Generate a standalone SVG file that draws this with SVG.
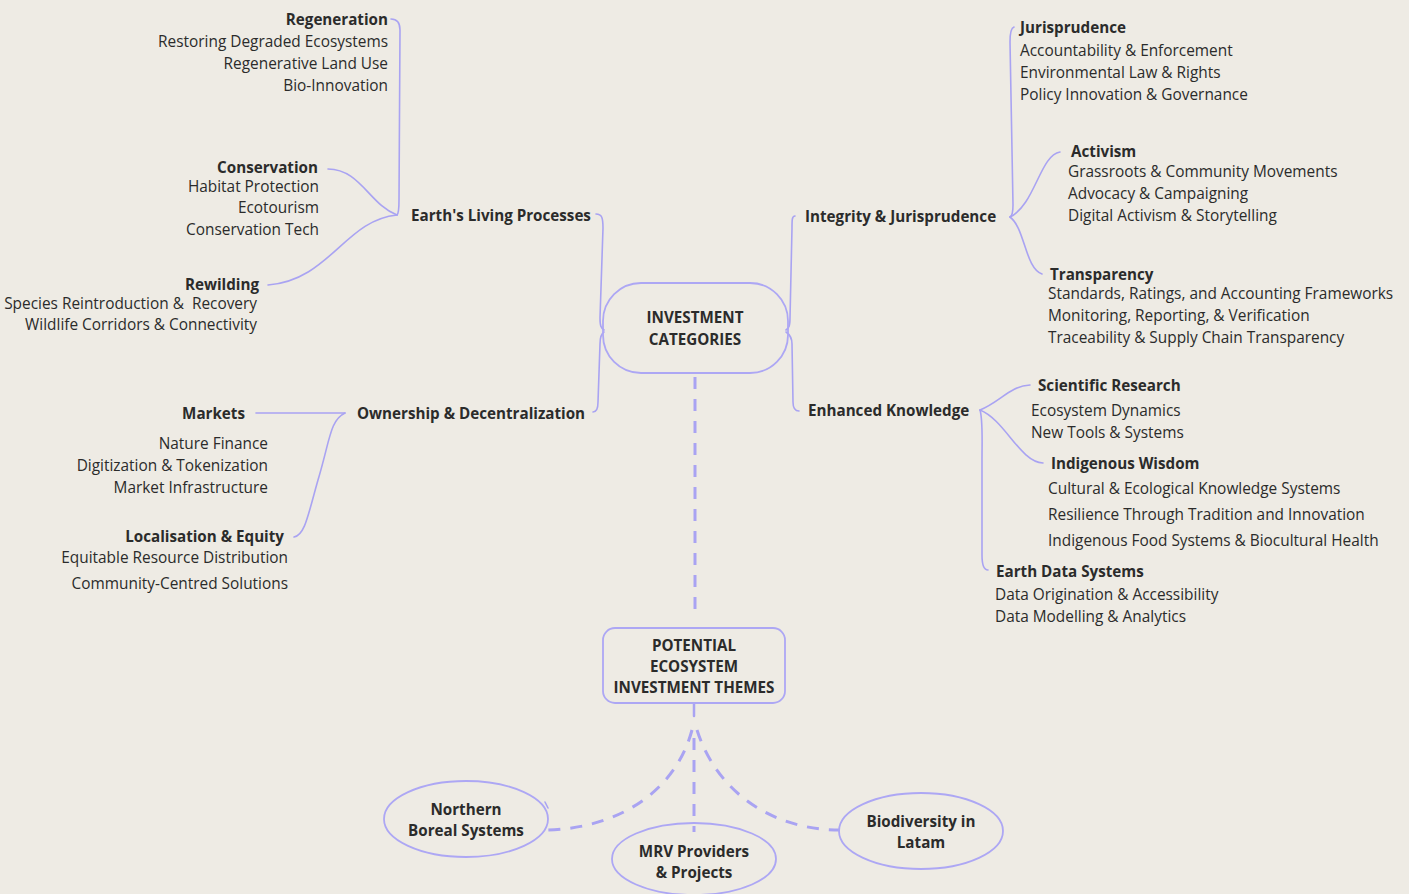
<svg xmlns="http://www.w3.org/2000/svg" width="1409" height="894" viewBox="0 0 1409 894">
<defs>
<style>
.bg{fill:#EEEBE4}
.ln{fill:none;stroke:#A9A3F2;stroke-width:1.6;stroke-linecap:round}
.dl{fill:none;stroke:#A9A3F2;stroke-width:3;stroke-dasharray:12 10}
.box{fill:none;stroke:#ADA7F4;stroke-width:1.8}
text{font-family:"Open Sans","Noto Sans","Liberation Sans",sans-serif;font-size:15.4px;fill:#2B2B2B}
.b{font-weight:700;font-size:15.2px}
.e{text-anchor:end}
.m{text-anchor:middle}
</style>
</defs>
<rect class="bg" x="0" y="0" width="1409" height="894"/>
<g id="connectors">
<path class="ln" d="M596,214 C602,214 603,218 603,228 L600,318 C600,326 601,328 604,330"/>
<path class="ln" d="M604,332 C601,334 600,338 600,344 L598,402 C598,410 596,412 593,412"/>
<path class="ln" d="M795,216 C792,216 792,220 792,228 L790,318 C790,326 789,328 786,330"/>
<path class="ln" d="M786,332 C789,334 792,338 792,344 L793,402 C793,408 795,411 799,411"/>
<path class="ln" d="M391,19 C397,19 400,22 400,30 L399,200 C399,210 398,214 397,215"/>
<path class="ln" d="M328,169 C360,169 370,205 397,215"/>
<path class="ln" d="M268,285 C330,280 345,220 397,215"/>
<path class="ln" d="M256,413 L345,413"/>
<path class="ln" d="M345,413 C330,420 330,440 318,480 C308,515 305,535 294,537"/>
<path class="ln" d="M1014,27 C1011,28 1010,32 1010,42 L1013,205 C1013,212 1012,216 1010,217"/>
<path class="ln" d="M1060,152 C1040,155 1035,205 1010,217"/>
<path class="ln" d="M1010,217 C1025,228 1025,268 1042,274"/>
<path class="ln" d="M980,410 C1000,402 1010,386 1030,385"/>
<path class="ln" d="M980,410 C1005,420 1020,462 1043,463"/>
<path class="ln" d="M980,410 C983,420 982,440 982,460 L982,555 C982,565 984,570 988,570"/>
<path class="dl" d="M695,377 L695,615"/>
<path class="ln" d="M694,704 L694,716" style="stroke-width:2.5"/>
<path class="dl" d="M692,730 C676,790 620,828 548,830"/>
<path class="dl" d="M697,730 C716,790 770,830 840,830"/>
<path class="dl" d="M694,738 L694,832"/>
<path class="ln" d="M545,802 L548,808"/>
</g>
<g id="node-investment-categories">
<rect class="box" x="603" y="283" width="185" height="90" rx="38"/>
<text class="b m" x="695" y="323">INVESTMENT</text>
<text class="b m" x="695" y="345">CATEGORIES</text>
</g>
<g id="node-potential-themes">
<rect class="box" x="603" y="628" width="182" height="75" rx="12"/>
<text class="b m" x="694" y="651">POTENTIAL</text>
<text class="b m" x="694" y="672">ECOSYSTEM</text>
<text class="b m" x="694" y="693">INVESTMENT THEMES</text>
</g>
<g id="node-northern-boreal">
<ellipse class="box" cx="466" cy="819" rx="82" ry="38"/>
<text class="b m" x="466" y="815">Northern</text>
<text class="b m" x="466" y="836">Boreal Systems</text>
</g>
<g id="node-mrv">
<ellipse class="box" cx="694" cy="859" rx="82" ry="36"/>
<text class="b m" x="694" y="857">MRV Providers</text>
<text class="b m" x="694" y="878">&amp; Projects</text>
</g>
<g id="node-biodiversity-latam">
<ellipse class="box" cx="921" cy="831" rx="82" ry="38"/>
<text class="b m" x="921" y="827">Biodiversity in</text>
<text class="b m" x="921" y="848">Latam</text>
</g>
<g id="node-earths-living-processes">
<text class="b" x="411" y="221">Earth's Living Processes</text>
</g>
<g id="node-regeneration">
<text class="b e" x="388" y="25">Regeneration</text>
<text class="e" x="388" y="47">Restoring Degraded Ecosystems</text>
<text class="e" x="388" y="69">Regenerative Land Use</text>
<text class="e" x="388" y="91">Bio-Innovation</text>
</g>
<g id="node-conservation">
<text class="b e" x="318" y="173">Conservation</text>
<text class="e" x="319" y="192">Habitat Protection</text>
<text class="e" x="319" y="213">Ecotourism</text>
<text class="e" x="319" y="235">Conservation Tech</text>
</g>
<g id="node-rewilding">
<text class="b e" x="259" y="290">Rewilding</text>
<text class="e" x="257" y="309">Species Reintroduction &amp;&#160; Recovery</text>
<text class="e" x="257" y="330">Wildlife Corridors &amp; Connectivity</text>
</g>
<g id="node-ownership">
<text class="b" x="357" y="419">Ownership &amp; Decentralization</text>
</g>
<g id="node-markets">
<text class="b e" x="245" y="419">Markets</text>
<text class="e" x="268" y="449">Nature Finance</text>
<text class="e" x="268" y="471">Digitization &amp; Tokenization</text>
<text class="e" x="268" y="493">Market Infrastructure</text>
</g>
<g id="node-localisation">
<text class="b e" x="284" y="542">Localisation &amp; Equity</text>
<text class="e" x="288" y="563">Equitable Resource Distribution</text>
<text class="e" x="288" y="589">Community-Centred Solutions</text>
</g>
<g id="node-integrity">
<text class="b" x="805" y="222">Integrity &amp; Jurisprudence</text>
</g>
<g id="node-jurisprudence">
<text class="b" x="1020" y="33">Jurisprudence</text>
<text x="1020" y="56">Accountability &amp; Enforcement</text>
<text x="1020" y="78">Environmental Law &amp; Rights</text>
<text x="1020" y="100">Policy Innovation &amp; Governance</text>
</g>
<g id="node-activism">
<text class="b" x="1071" y="157">Activism</text>
<text x="1068" y="177">Grassroots &amp; Community Movements</text>
<text x="1068" y="199">Advocacy &amp; Campaigning</text>
<text x="1068" y="221">Digital Activism &amp; Storytelling</text>
</g>
<g id="node-transparency">
<text class="b" x="1050" y="280">Transparency</text>
<text x="1048" y="299">Standards, Ratings, and Accounting Frameworks</text>
<text x="1048" y="321">Monitoring, Reporting, &amp; Verification</text>
<text x="1048" y="343">Traceability &amp; Supply Chain Transparency</text>
</g>
<g id="node-enhanced-knowledge">
<text class="b" x="808" y="416">Enhanced Knowledge</text>
</g>
<g id="node-scientific-research">
<text class="b" x="1038" y="391">Scientific Research</text>
<text x="1031" y="416">Ecosystem Dynamics</text>
<text x="1031" y="438">New Tools &amp; Systems</text>
</g>
<g id="node-indigenous-wisdom">
<text class="b" x="1051" y="469">Indigenous Wisdom</text>
<text x="1048" y="494">Cultural &amp; Ecological Knowledge Systems</text>
<text x="1048" y="520">Resilience Through Tradition and Innovation</text>
<text x="1048" y="546">Indigenous Food Systems &amp; Biocultural Health</text>
</g>
<g id="node-earth-data">
<text class="b" x="996" y="577">Earth Data Systems</text>
<text x="995" y="600">Data Origination &amp; Accessibility</text>
<text x="995" y="622">Data Modelling &amp; Analytics</text>
</g>
</svg>
